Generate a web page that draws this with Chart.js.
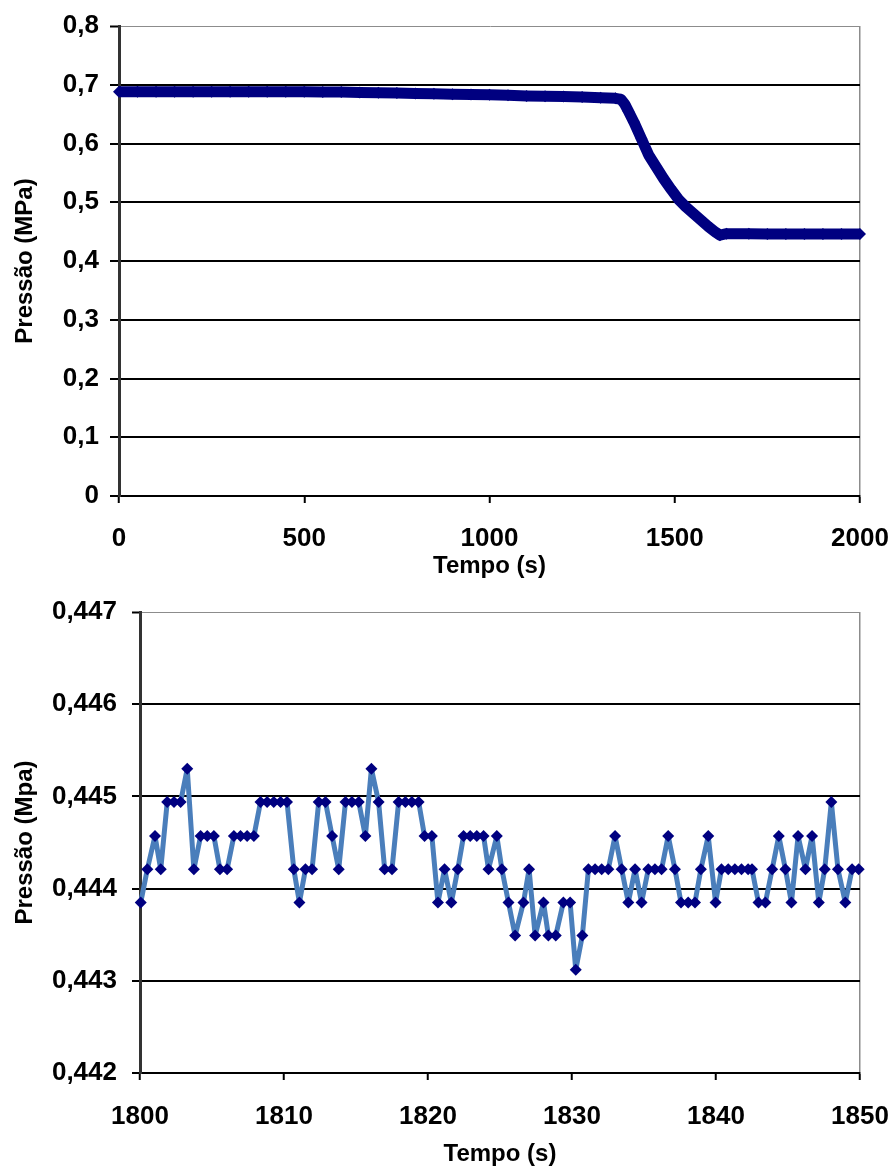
<!DOCTYPE html>
<html>
<head>
<meta charset="utf-8">
<script src="https://cdn.jsdelivr.net/npm/chart.js@4.4.1/dist/chart.umd.min.js"></script>
<style>
  html, body { margin: 0; padding: 0; background: #fff; }
  canvas { display: block; }
</style>
</head>
<body>
<canvas id="pressureChart" width="896" height="590"></canvas>
<canvas id="detailChart" width="896" height="581"></canvas>
<script>
// Ensaio completo: pressão ao longo do tempo
const fullTime = [0, 50, 100, 150, 200, 250, 300, 350, 400, 450, 500, 550, 600, 650, 700, 750, 800, 850, 900, 950,
    1000, 1050, 1100, 1150, 1200, 1250, 1300, 1340, 1355, 1365, 1375, 1390, 1410, 1430, 1450, 1470, 1490, 1510,
    1530, 1550, 1570, 1590, 1610, 1622, 1640, 1700, 1750, 1800, 1850, 1900, 1950, 2000];
const fullPressure = [0.688, 0.688, 0.688, 0.688, 0.688, 0.688, 0.688, 0.688, 0.688, 0.688, 0.688, 0.6875, 0.6875,
    0.687, 0.6865, 0.686, 0.685, 0.6845, 0.684, 0.6835, 0.683, 0.682, 0.681, 0.6805, 0.680, 0.679, 0.678, 0.677,
    0.675, 0.667, 0.655, 0.636, 0.608, 0.580, 0.560, 0.540, 0.522, 0.505, 0.492, 0.481, 0.470, 0.459, 0.449, 0.444,
    0.4465, 0.4465, 0.446, 0.446, 0.446, 0.446, 0.446, 0.446];

// Detalhe entre 1800 e 1850 s
const detailTime = [1800.05, 1800.51, 1801.04, 1801.44, 1801.89, 1802.36, 1802.82, 1803.28, 1803.74, 1804.21,
    1804.67, 1805.13, 1805.55, 1806.05, 1806.52, 1806.98, 1807.44, 1807.91, 1808.37, 1808.83, 1809.29, 1809.76,
    1810.21, 1810.68, 1811.07, 1811.49, 1811.95, 1812.41, 1812.88, 1813.34, 1813.80, 1814.27, 1814.72, 1815.19,
    1815.65, 1816.07, 1816.57, 1816.99, 1817.50, 1817.96, 1818.43, 1818.88, 1819.35, 1819.76, 1820.27, 1820.69,
    1821.15, 1821.62, 1822.07, 1822.47, 1822.93, 1823.39, 1823.86, 1824.20, 1824.78, 1825.13, 1825.59, 1826.05,
    1826.63, 1827.02, 1827.44, 1828.02, 1828.36, 1828.87, 1829.40, 1829.87, 1830.26, 1830.72, 1831.14, 1831.60,
    1832.06, 1832.52, 1832.99, 1833.45, 1833.91, 1834.38, 1834.83, 1835.30, 1835.76, 1836.22, 1836.68, 1837.15,
    1837.57, 1838.07, 1838.54, 1838.95, 1839.46, 1839.97, 1840.38, 1840.85, 1841.31, 1841.77, 1842.23, 1842.50,
    1842.95, 1843.43, 1843.90, 1844.36, 1844.82, 1845.24, 1845.70, 1846.21, 1846.67, 1847.14, 1847.55, 1848.01,
    1848.47, 1848.98, 1849.45, 1849.91];
const detailPressure = [0.44385, 0.44421, 0.44457, 0.44421, 0.44494, 0.44494, 0.44494, 0.4453, 0.44421, 0.44457,
    0.44457, 0.44457, 0.44421, 0.44421, 0.44457, 0.44457, 0.44457, 0.44457, 0.44494, 0.44494, 0.44494, 0.44494,
    0.44494, 0.44421, 0.44385, 0.44421, 0.44421, 0.44494, 0.44494, 0.44457, 0.44421, 0.44494, 0.44494, 0.44494,
    0.44457, 0.4453, 0.44494, 0.44421, 0.44421, 0.44494, 0.44494, 0.44494, 0.44494, 0.44457, 0.44457, 0.44385,
    0.44421, 0.44385, 0.44421, 0.44457, 0.44457, 0.44457, 0.44457, 0.44421, 0.44457, 0.44421, 0.44385, 0.44349,
    0.44385, 0.44421, 0.44349, 0.44385, 0.44349, 0.44349, 0.44385, 0.44385, 0.44312, 0.44349, 0.44421, 0.44421,
    0.44421, 0.44421, 0.44457, 0.44421, 0.44385, 0.44421, 0.44385, 0.44421, 0.44421, 0.44421, 0.44457, 0.44421,
    0.44385, 0.44385, 0.44385, 0.44421, 0.44457, 0.44385, 0.44421, 0.44421, 0.44421, 0.44421, 0.44421, 0.44421,
    0.44385, 0.44385, 0.44421, 0.44457, 0.44421, 0.44385, 0.44457, 0.44421, 0.44457, 0.44385, 0.44421, 0.44494,
    0.44421, 0.44385, 0.44421, 0.44421];

const FONT = '"Liberation Sans", Arial, sans-serif';
const tickFont = { family: FONT, size: 26, weight: 'bold' };
const titleFont = { family: FONT, size: 24, weight: 'bold' };

const comma = (v, d) => (v === 0 ? '0' : v.toFixed(d).replace('.', ','));

// Eixo X: só marcas de escala, mais a borda direita cinza
function xScale(min, max, step, padding, boxHeight, titlePad) {
    return {
        type: 'linear', min: min, max: max,
        ticks: { stepSize: step, padding: padding, color: '#000', font: tickFont, maxRotation: 0,
                 callback: v => String(v) },
        grid: {
            color: ctx => (ctx.tick && ctx.tick.value === max ? '#8c8c8c' : 'rgba(0,0,0,0)'),
            lineWidth: 1.5, tickLength: 7, tickColor: '#000', tickWidth: 2
        },
        border: { color: '#000', width: 2 },
        title: { display: true, text: 'Tempo (s)', color: '#000', font: titleFont,
                 padding: { top: 0, bottom: titlePad } },
        afterFit: s => { s.height = boxHeight; s.paddingLeft = 10; s.paddingRight = 30; }
    };
}

function yScale(min, max, step, decimals, title, tickLen, padding, boxWidth) {
    return {
        min: min, max: max,
        ticks: { stepSize: step, padding: padding, color: '#000', font: tickFont,
                 callback: v => comma(v, decimals) },
        grid: {
            color: ctx => (ctx.tick && Math.abs(ctx.tick.value - max) < 1e-9 ? '#8c8c8c' : '#000'),
            lineWidth: ctx => (ctx.tick && Math.abs(ctx.tick.value - max) < 1e-9 ? 1 : 2),
            tickLength: tickLen, tickColor: '#000', tickWidth: 2
        },
        border: { color: '#333', width: 3 },
        title: { display: true, text: title, color: '#000', font: titleFont,
                 padding: { top: 11, bottom: 0 } },
        afterFit: s => { s.width = boxWidth; s.paddingTop = 16; s.paddingBottom = 16; }
    };
}

new Chart(document.getElementById('pressureChart').getContext('2d'), {
    type: 'line',
    data: {
        datasets: [{
            data: fullTime.map((t, i) => ({ x: t, y: fullPressure[i] })),
            borderColor: '#000080', borderWidth: 11, borderJoinStyle: 'round',
            pointStyle: 'rectRot', pointRadius: 6, pointBorderWidth: 0,
            pointBackgroundColor: '#000080', tension: 0, clip: false
        }]
    },
    options: {
        responsive: false, animation: false,
        layout: { padding: { top: 26, right: 36, left: 0, bottom: 0 } },
        plugins: { legend: { display: false }, tooltip: { enabled: false } },
        scales: {
            x: xScale(0, 2000, 500, 20, 94, 9),
            y: yScale(0, 0.8, 0.1, 1, 'Pressão (MPa)', 9, 11, 119)
        }
    }
});

new Chart(document.getElementById('detailChart').getContext('2d'), {
    type: 'line',
    data: {
        datasets: [{
            data: detailTime.map((t, i) => ({ x: t, y: detailPressure[i] })),
            borderColor: '#4a7ebb', borderWidth: 5, borderJoinStyle: 'round',
            pointStyle: 'rectRot', pointRadius: 6, pointBorderWidth: 0,
            pointBackgroundColor: '#000080', tension: 0, clip: false
        }]
    },
    options: {
        responsive: false, animation: false,
        layout: { padding: { top: 22, right: 36, left: 0, bottom: 0 } },
        plugins: { legend: { display: false }, tooltip: { enabled: false } },
        scales: {
            x: xScale(1800, 1850, 10, 21, 98, 2),
            y: yScale(0.442, 0.447, 0.001, 3, 'Pressão (Mpa)', 8, 15, 140)
        }
    }
});
</script>
</body>
</html>
